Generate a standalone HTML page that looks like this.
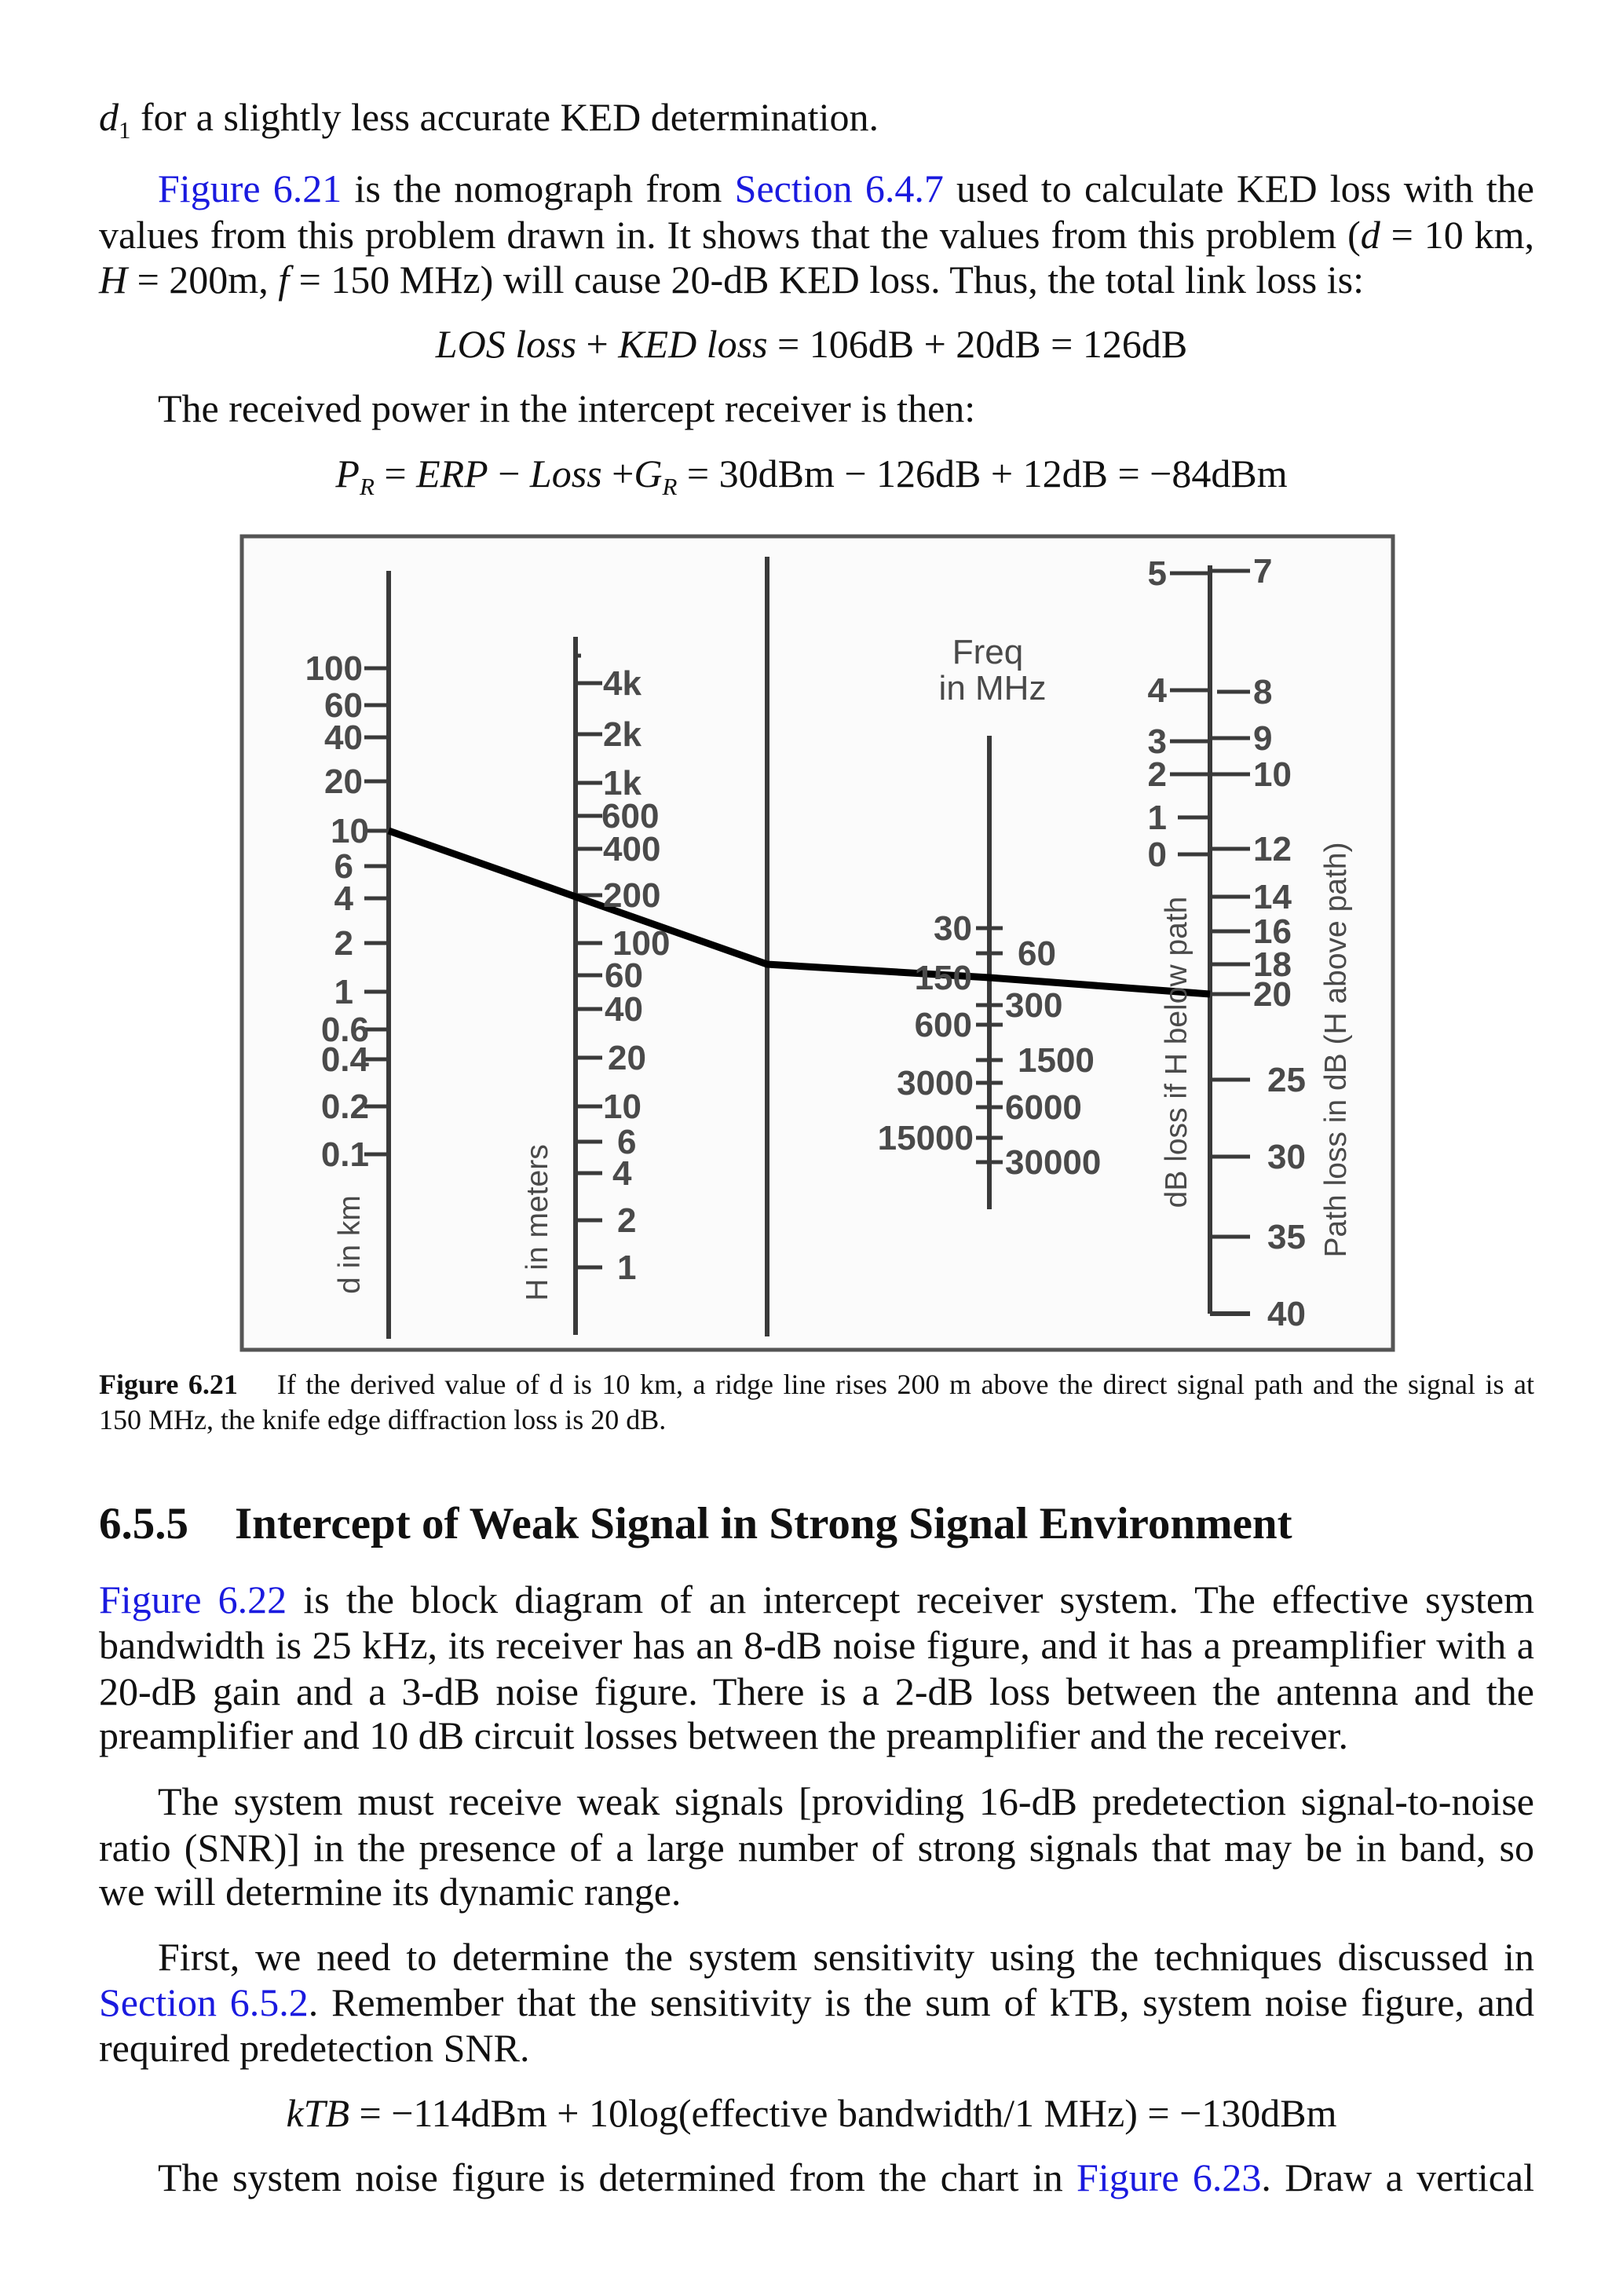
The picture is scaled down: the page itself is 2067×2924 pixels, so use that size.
<!DOCTYPE html>
<html><head><meta charset="utf-8">
<style>
html,body{margin:0;padding:0;background:#fff;}
body{width:2067px;height:2924px;position:relative;overflow:hidden;font-family:"Liberation Serif",serif;color:#111;}
.l{position:absolute;left:126px;width:1828px;font-size:50px;line-height:50px;white-space:nowrap;}
.j{text-align:justify;text-align-last:justify;white-space:normal;}
.in{left:201px;width:1753px;}
.c{text-align:center;left:0;width:2067px;}
a{color:#1a1adf;text-decoration:none;}
i{font-style:italic;}
sub{font-size:31px;vertical-align:-10px;line-height:0;}
.cap{position:absolute;left:126px;width:1828px;font-size:36px;line-height:36px;white-space:nowrap;}
</style></head><body>
<div class="l" style="top:124px"><i>d</i><sub>1</sub> for a slightly less accurate KED determination.</div>
<div class="l in j" style="top:215px"><a>Figure 6.21</a> is the nomograph from <a>Section 6.4.7</a> used to calculate KED loss with the</div>
<div class="l j" style="top:274px">values from this problem drawn in. It shows that the values from this problem (<i>d</i> = 10 km,</div>
<div class="l" style="top:331px"><i>H</i> = 200m, <i>f</i> = 150 MHz) will cause 20-dB KED loss. Thus, the total link loss is:</div>
<div class="l c" style="top:413px"><i>LOS loss</i> + <i>KED loss</i> = 106dB + 20dB = 126dB</div>
<div class="l in" style="top:495px">The received power in the intercept receiver is then:</div>
<div class="l c" style="top:578px"><i>P<sub>R</sub></i> = <i>ERP</i> − <i>Loss</i> +<i>G<sub>R</sub></i> = 30dBm − 126dB + 12dB = −84dBm</div>

<svg style="position:absolute;left:0;top:0" width="2067" height="1760" viewBox="0 0 2067 1760">
<rect x="308" y="683" width="1466" height="1036" fill="#fbfbfb" stroke="#555" stroke-width="5"/>
<g stroke="#3a3a3a" stroke-width="6" fill="none">
<line x1="495" y1="727" x2="495" y2="1705"/>
<line x1="733" y1="811" x2="733" y2="1700"/>
<line x1="977" y1="709" x2="977" y2="1702"/>
<line x1="1260" y1="937" x2="1260" y2="1540"/>
<line x1="1541" y1="720" x2="1541" y2="1673"/>
<line x1="1541" y1="1673" x2="1592" y2="1673"/>
</g>
<g stroke="#3a3a3a" stroke-width="5">
<line x1="464" y1="851" x2="495" y2="851"/><line x1="464" y1="898" x2="495" y2="898"/><line x1="464" y1="939" x2="495" y2="939"/><line x1="464" y1="995" x2="495" y2="995"/><line x1="464" y1="1058" x2="495" y2="1058"/><line x1="464" y1="1103" x2="495" y2="1103"/><line x1="464" y1="1144" x2="495" y2="1144"/><line x1="464" y1="1201" x2="495" y2="1201"/><line x1="464" y1="1263" x2="495" y2="1263"/><line x1="464" y1="1311" x2="495" y2="1311"/><line x1="464" y1="1349" x2="495" y2="1349"/><line x1="464" y1="1409" x2="495" y2="1409"/><line x1="464" y1="1470" x2="495" y2="1470"/>
<line x1="733" y1="835" x2="740" y2="835"/>
<line x1="733" y1="870" x2="767" y2="870"/><line x1="733" y1="935" x2="767" y2="935"/><line x1="733" y1="997" x2="767" y2="997"/><line x1="733" y1="1039" x2="767" y2="1039"/><line x1="733" y1="1081" x2="767" y2="1081"/><line x1="733" y1="1140" x2="767" y2="1140"/><line x1="733" y1="1201" x2="767" y2="1201"/><line x1="733" y1="1242" x2="767" y2="1242"/><line x1="733" y1="1285" x2="767" y2="1285"/><line x1="733" y1="1347" x2="767" y2="1347"/><line x1="733" y1="1409" x2="767" y2="1409"/><line x1="733" y1="1454" x2="767" y2="1454"/><line x1="733" y1="1494" x2="767" y2="1494"/><line x1="733" y1="1554" x2="767" y2="1554"/><line x1="733" y1="1614" x2="767" y2="1614"/>
<line x1="1243" y1="1182" x2="1277" y2="1182"/><line x1="1243" y1="1214" x2="1277" y2="1214"/><line x1="1243" y1="1245" x2="1277" y2="1245"/><line x1="1243" y1="1280" x2="1277" y2="1280"/><line x1="1243" y1="1305" x2="1277" y2="1305"/><line x1="1243" y1="1350" x2="1277" y2="1350"/><line x1="1243" y1="1379" x2="1277" y2="1379"/><line x1="1243" y1="1410" x2="1277" y2="1410"/><line x1="1243" y1="1449" x2="1277" y2="1449"/><line x1="1243" y1="1480" x2="1277" y2="1480"/>
<line x1="1490" y1="730" x2="1541" y2="730"/><line x1="1490" y1="879" x2="1541" y2="879"/><line x1="1490" y1="944" x2="1541" y2="944"/><line x1="1490" y1="986" x2="1541" y2="986"/><line x1="1500" y1="1041" x2="1541" y2="1041"/><line x1="1500" y1="1088" x2="1541" y2="1088"/>
<line x1="1541" y1="727" x2="1592" y2="727"/><line x1="1550" y1="881" x2="1592" y2="881"/><line x1="1541" y1="940" x2="1592" y2="940"/><line x1="1541" y1="986" x2="1592" y2="986"/><line x1="1541" y1="1081" x2="1592" y2="1081"/><line x1="1541" y1="1142" x2="1592" y2="1142"/><line x1="1541" y1="1186" x2="1592" y2="1186"/><line x1="1541" y1="1228" x2="1592" y2="1228"/><line x1="1541" y1="1266" x2="1592" y2="1266"/><line x1="1541" y1="1375" x2="1592" y2="1375"/><line x1="1541" y1="1473" x2="1592" y2="1473"/><line x1="1541" y1="1575" x2="1592" y2="1575"/>
</g>
<polyline points="495,1058 733,1142 977,1228 1260,1245 1541,1266" fill="none" stroke="#000" stroke-width="9"/>
<g font-family="Liberation Sans, sans-serif" font-weight="bold" font-size="44" fill="#4a4a4a">
<g text-anchor="end">
<text x="462" y="866">100</text><text x="462" y="913">60</text><text x="462" y="954">40</text><text x="462" y="1010">20</text><text x="470" y="1073">10</text><text x="450" y="1118">6</text><text x="450" y="1159">4</text><text x="450" y="1216">2</text><text x="450" y="1278">1</text><text x="470" y="1326">0.6</text><text x="470" y="1364">0.4</text><text x="470" y="1424">0.2</text><text x="470" y="1485">0.1</text>
<text x="1238" y="1197">30</text><text x="1238" y="1260">150</text><text x="1238" y="1320">600</text><text x="1240" y="1394">3000</text><text x="1240" y="1464">15000</text>
<text x="1486" y="745">5</text><text x="1486" y="894">4</text><text x="1486" y="959">3</text><text x="1486" y="1001">2</text><text x="1486" y="1056">1</text><text x="1486" y="1103">0</text>
</g>
<text x="768" y="885">4k</text><text x="768" y="950">2k</text><text x="768" y="1012">1k</text><text x="766" y="1054">600</text><text x="768" y="1096">400</text><text x="768" y="1155">200</text><text x="780" y="1216">100</text><text x="770" y="1257">60</text><text x="770" y="1300">40</text><text x="774" y="1362">20</text><text x="768" y="1424">10</text><text x="786" y="1469">6</text><text x="780" y="1509">4</text><text x="786" y="1569">2</text><text x="786" y="1629">1</text>
<text x="1296" y="1229">60</text><text x="1280" y="1295">300</text><text x="1296" y="1365">1500</text><text x="1280" y="1425">6000</text><text x="1280" y="1495">30000</text>
<text x="1596" y="742">7</text><text x="1596" y="896">8</text><text x="1596" y="955">9</text><text x="1596" y="1001">10</text><text x="1596" y="1096">12</text><text x="1596" y="1157">14</text><text x="1596" y="1201">16</text><text x="1596" y="1243">18</text><text x="1596" y="1281">20</text><text x="1614" y="1390">25</text><text x="1614" y="1488">30</text><text x="1614" y="1590">35</text><text x="1614" y="1688">40</text>
<g font-weight="normal" font-size="44" text-anchor="middle">
<text x="1258" y="845">Freq</text><text x="1264" y="891">in MHz</text>
</g>
<g font-weight="normal" font-size="39" text-anchor="middle">
<text transform="translate(458,1585) rotate(-90)">d in km</text>
<text transform="translate(697,1557) rotate(-90)">H in meters</text>
<text transform="translate(1511,1340) rotate(-90)">dB loss if H below path</text>
<text transform="translate(1714,1337) rotate(-90)">Path loss in dB (H above path)</text>
</g>
</g>
</svg>

<div class="cap j" style="top:1745px;white-space:normal"><b>Figure 6.21</b>&nbsp;&nbsp;&nbsp; If the derived value of d is 10 km, a ridge line rises 200 m above the direct signal path and the signal is at</div>
<div class="cap" style="top:1790px">150 MHz, the knife edge diffraction loss is 20 dB.</div>

<div style="position:absolute;left:126px;top:1912px;font-size:57px;line-height:57px;font-weight:bold;white-space:nowrap">6.5.5<span style="position:absolute;left:173px">Intercept of Weak Signal in Strong Signal Environment</span></div>

<div class="l j" style="top:2012px"><a>Figure 6.22</a> is the block diagram of an intercept receiver system. The effective system</div>
<div class="l j" style="top:2070px">bandwidth is 25 kHz, its receiver has an 8-dB noise figure, and it has a preamplifier with a</div>
<div class="l j" style="top:2129px">20-dB gain and a 3-dB noise figure. There is a 2-dB loss between the antenna and the</div>
<div class="l" style="top:2185px">preamplifier and 10 dB circuit losses between the preamplifier and the receiver.</div>
<div class="l in j" style="top:2269px">The system must receive weak signals [providing 16-dB predetection signal-to-noise</div>
<div class="l j" style="top:2328px">ratio (SNR)] in the presence of a large number of strong signals that may be in band, so</div>
<div class="l" style="top:2384px">we will determine its dynamic range.</div>
<div class="l in j" style="top:2467px">First, we need to determine the system sensitivity using the techniques discussed in</div>
<div class="l j" style="top:2525px"><a>Section 6.5.2</a>. Remember that the sensitivity is the sum of kTB, system noise figure, and</div>
<div class="l" style="top:2583px">required predetection SNR.</div>
<div class="l c" style="top:2666px"><i>kTB</i> = −114dBm + 10log(effective bandwidth/1 MHz) = −130dBm</div>
<div class="l in j" style="top:2748px">The system noise figure is determined from the chart in <a>Figure 6.23</a>. Draw a vertical</div>
</body></html>
